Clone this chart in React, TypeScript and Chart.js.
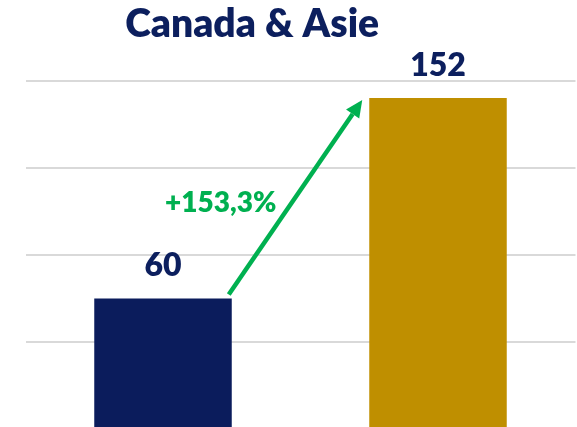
import React, { useEffect, useRef } from "react";
import { Chart, registerables } from "chart.js";

Chart.register(...registerables);

const TITLE = "Canada & Asie";
const categories = ["Avant", "Après"];
const values = [60, 152];
const barColors = ["#0b1c5c", "#bf8f00"];
const yTicks = [0, 40, 80, 120, 160];

const NAVY_TEXT = "#0c1f5e";
const GREEN = "#00b050";
const FONT = "Lato, 'Open Sans', sans-serif";

const growthLabel = () => {
  const pct = ((values[1] - values[0]) / values[0]) * 100;
  return "+" + pct.toFixed(1).replace(".", ",") + "%";
};

const overlayPlugin = {
  id: "overlay",
  afterDatasetsDraw(chart: any) {
    const ctx = chart.ctx;
    const meta = chart.getDatasetMeta(0);
    const bars = meta.data;
    ctx.save();
    // title
    ctx.fillStyle = NAVY_TEXT;
    ctx.font = `800 39px ${FONT}`;
    ctx.textAlign = "center";
    ctx.textBaseline = "alphabetic";
    ctx.fillText(TITLE, chart.width * 0.437, 37);

    // value labels
    ctx.font = `800 32px ${FONT}`;
    bars.forEach((b: any, i: number) => {
      ctx.fillText(String(values[i]), b.x, b.y - 22);
    });

    // arrow
    const b0 = bars[0];
    const b1 = bars[1];
    const x0 = b0.x + b0.width / 2 - 3;
    const y0 = b0.y - 4;
    const x1 = b1.x - b1.width / 2 - 7;
    const y1 = b1.y + 2;
    const ang = Math.atan2(y1 - y0, x1 - x0);
    const head = 17;
    const hw = 8;
    const bx = x1 - head * Math.cos(ang);
    const by = y1 - head * Math.sin(ang);
    ctx.strokeStyle = GREEN;
    ctx.lineWidth = 4.5;
    ctx.beginPath();
    ctx.moveTo(x0, y0);
    ctx.lineTo(bx, by);
    ctx.stroke();
    ctx.fillStyle = GREEN;
    ctx.beginPath();
    ctx.moveTo(x1, y1);
    ctx.lineTo(bx + hw * Math.sin(ang), by - hw * Math.cos(ang));
    ctx.lineTo(bx - hw * Math.sin(ang), by + hw * Math.cos(ang));
    ctx.closePath();
    ctx.fill();

    // growth label
    const midY = (y0 + y1) / 2 + 6;
    const t = (midY - y0) / (y1 - y0);
    const ax = x0 + (x1 - x0) * t;
    ctx.font = `800 28px ${FONT}`;
    ctx.textAlign = "right";
    ctx.textBaseline = "middle";
    ctx.fillText(growthLabel(), ax - 15, midY);
    ctx.restore();
  },
};

export default function App() {
  const ref = useRef<HTMLCanvasElement>(null);
  useEffect(() => {
    document.body.style.overflow = "hidden";
    const chart = new Chart(ref.current!, {
      type: "bar",
      data: {
        labels: categories,
        datasets: [
          {
            data: values,
            backgroundColor: barColors,
            categoryPercentage: 1,
            barPercentage: 0.5,
          },
        ],
      },
      options: {
        animation: false,
        responsive: true,
        maintainAspectRatio: false,
        layout: { padding: { left: 25.5, right: 1.5, top: 80.5, bottom: 0.8 } },
        plugins: {
          legend: { display: false },
          tooltip: { enabled: false },
          title: { display: false },
        },
        scales: {
          x: { display: false },
          y: {
            min: yTicks[0],
            max: yTicks[yTicks.length - 1],
            afterBuildTicks: (axis: any) => {
              axis.ticks = yTicks.map((v) => ({ value: v }));
            },
            ticks: { display: false },
            border: { display: false },
            grid: { color: "#d9d9d9", lineWidth: 2, drawTicks: false },
          },
        },
      },
      plugins: [overlayPlugin],
    });
    return () => chart.destroy();
  }, []);
  return (
    <div style={{ position: "fixed", top: 0, left: 0, width: 577, height: 430, background: "#fff" }}>
      <canvas ref={ref} />
    </div>
  );
}
